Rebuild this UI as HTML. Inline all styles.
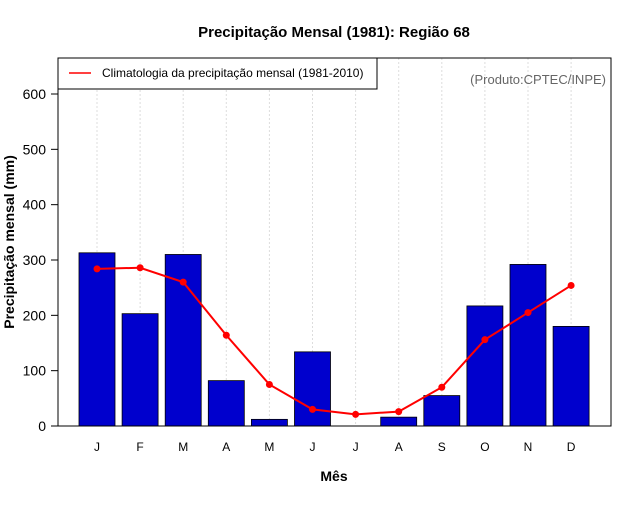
<!DOCTYPE html>
<html><head><meta charset="utf-8"><style>
body{margin:0;background:#fff;font-family:"Liberation Sans",sans-serif}
</style></head><body>
<svg id="c" width="640" height="500" xmlns="http://www.w3.org/2000/svg" font-family="Liberation Sans, sans-serif">
<text x="334" y="37" text-anchor="middle" font-weight="bold" font-size="15">Precipitação Mensal (1981): Região 68</text>
<g id="grid"></g>
<g id="bars"></g>
<g id="line"></g>
<rect x="58" y="58" width="553" height="368" fill="none" stroke="#000"/>
<g id="axes"></g>
<g>
<rect x="58" y="58" width="319" height="31" fill="#fff" stroke="#000"/>
<line x1="69" y1="73" x2="91" y2="73" stroke="#f00" stroke-width="1.5"/>
<text x="102" y="77" font-size="12">Climatologia da precipitação mensal (1981-2010)</text>
</g>
<text x="606" y="84" text-anchor="end" font-size="13" fill="#666">(Produto:CPTEC/INPE)</text>
<text x="334" y="481" text-anchor="middle" font-weight="bold" font-size="14">Mês</text>
<text transform="translate(14,242) rotate(-90)" text-anchor="middle" font-weight="bold" font-size="14">Precipitação mensal (mm)</text>
</svg>
<script>
const months=["J","F","M","A","M","J","J","A","S","O","N","D"];
const precip=[313,203,310,82,12,134,0,16,55,217,292,180];
const clim=[284,286,260,164,75,30,21,26,70,156,205,254];
const yTicks=[0,100,200,300,400,500,600];
const NS="http://www.w3.org/2000/svg";
const x=i=>97+i*43.1;
const y=v=>426-v*(332/600);
function mk(t,a,p){const e=document.createElementNS(NS,t);for(const k in a)e.setAttribute(k,a[k]);document.getElementById(p).appendChild(e);return e;}
months.forEach((m,i)=>{
 const g=mk('line',{x1:x(i),x2:x(i),y1:58,y2:426,stroke:'#ddd','stroke-dasharray':'2,2'},'grid');
 
 
 const b=mk('rect',{x:x(i)-18,y:y(precip[i]),width:36,height:426-y(precip[i]),fill:'#0000cd',stroke:'#000','stroke-width':0.8},'bars');
 
 
 const t=mk('text',{x:x(i),y:451,'text-anchor':'middle','font-size':12},'axes');
 t.textContent=m;
 
 
});
const pl=mk('polyline',{points:clim.map((v,i)=>x(i)+','+y(v)).join(' '),fill:'none',stroke:'#f00','stroke-width':2},'line');


clim.forEach((v,i)=>{
 const c=mk('circle',{cx:x(i),cy:y(v),r:3.5,fill:'#f00'},'line');
 
 
});
yTicks.forEach(v=>{
 const l=mk('line',{x1:51,x2:58,y1:y(v),y2:y(v),stroke:'#000'},'axes');
 
 
 const t=mk('text',{x:46,y:y(v)+5,'text-anchor':'end','font-size':14},'axes');
 t.textContent=v;
 
 
});
</script>
</body></html>
